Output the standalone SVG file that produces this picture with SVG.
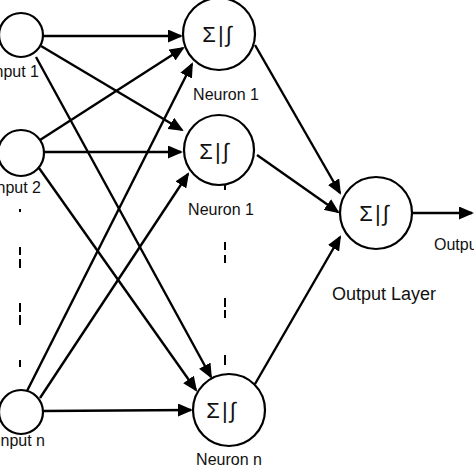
<svg xmlns="http://www.w3.org/2000/svg" width="474" height="474" viewBox="0 0 474 474">
<style>
.node{fill:#fff;stroke:#000;stroke-width:2.2}
.sym{font-family:"Liberation Sans","DejaVu Sans",sans-serif;font-size:22px;letter-spacing:2px;text-anchor:middle;fill:#111}
.lbl{font-family:"Liberation Sans",Arial,sans-serif;font-size:16px;fill:#111}
.con line{stroke:#000;stroke-width:2.4;marker-end:url(#ah)}
.dash line{stroke:#000;stroke-width:2}
</style>
<defs>
<marker id="ah" viewBox="0 0 15 13" refX="13" refY="6.5" markerWidth="15" markerHeight="13" markerUnits="userSpaceOnUse" orient="auto">
<path d="M0,0 L15,6.5 L0,13 Z" fill="#000"/>
</marker>
</defs>
<rect width="474" height="474" fill="#fff"/>
<g id="connectors" class="con">
<line x1="43" y1="36" x2="181" y2="36"/>
<line x1="41" y1="46" x2="182" y2="130"/>
<line x1="36" y1="57" x2="211" y2="377"/>
<line x1="40" y1="140" x2="183" y2="48"/>
<line x1="44" y1="152" x2="181" y2="152"/>
<line x1="39" y1="168" x2="196" y2="390"/>
<line x1="27" y1="391" x2="192" y2="64"/>
<line x1="40" y1="398" x2="188" y2="174"/>
<line x1="43" y1="411" x2="191" y2="410"/>
<line x1="255" y1="45" x2="340" y2="193"/>
<line x1="257" y1="155" x2="338" y2="212"/>
<line x1="255" y1="384" x2="340" y2="237"/>
<line x1="413" y1="213" x2="472" y2="213"/>
</g>
<g id="dashes" class="dash">
<line x1="20" y1="209" x2="20" y2="212"/>
<line x1="20" y1="247" x2="20" y2="255"/>
<line x1="20" y1="259" x2="20" y2="268"/>
<line x1="20" y1="303" x2="20" y2="312"/>
<line x1="20" y1="315" x2="20" y2="325"/>
<line x1="20" y1="360" x2="20" y2="367"/>
<line x1="225" y1="185" x2="225" y2="190"/>
<line x1="225" y1="242" x2="225" y2="250"/>
<line x1="225" y1="255" x2="225" y2="263"/>
<line x1="225" y1="298" x2="225" y2="307"/>
<line x1="225" y1="310" x2="225" y2="318"/>
<line x1="225" y1="355" x2="225" y2="365"/>
</g>
<g id="input1"><circle class="node" cx="21" cy="35" r="22"/><text class="lbl" x="39" y="77" text-anchor="end">Input 1</text></g>
<g id="input2"><circle class="node" cx="21" cy="153" r="23"/><text class="lbl" x="41" y="193" text-anchor="end">Input 2</text></g>
<g id="inputn"><circle class="node" cx="21" cy="412" r="22"/><text class="lbl" x="45" y="446" text-anchor="end">Input n</text></g>
<g id="neuron1"><circle class="node" cx="219" cy="34" r="36"/><text class="sym" x="218" y="42">Σ|∫</text><text class="lbl" x="226" y="100" text-anchor="middle">Neuron 1</text></g>
<g id="neuron2"><circle class="node" cx="219" cy="150" r="35"/><text class="sym" x="215" y="159">Σ|∫</text><text class="lbl" x="221" y="215" text-anchor="middle">Neuron 1</text></g>
<g id="neuronn"><circle class="node" cx="229" cy="410" r="36"/><text class="sym" x="222" y="418">Σ|∫</text><text class="lbl" x="229" y="465" text-anchor="middle">Neuron n</text></g>
<g id="output"><circle class="node" cx="376" cy="213" r="36"/><text class="sym" x="375" y="221">Σ|∫</text><text class="lbl" x="434" y="250">Output</text><text class="lbl" x="332" y="300" style="font-size:18px">Output Layer</text></g>
</svg>
